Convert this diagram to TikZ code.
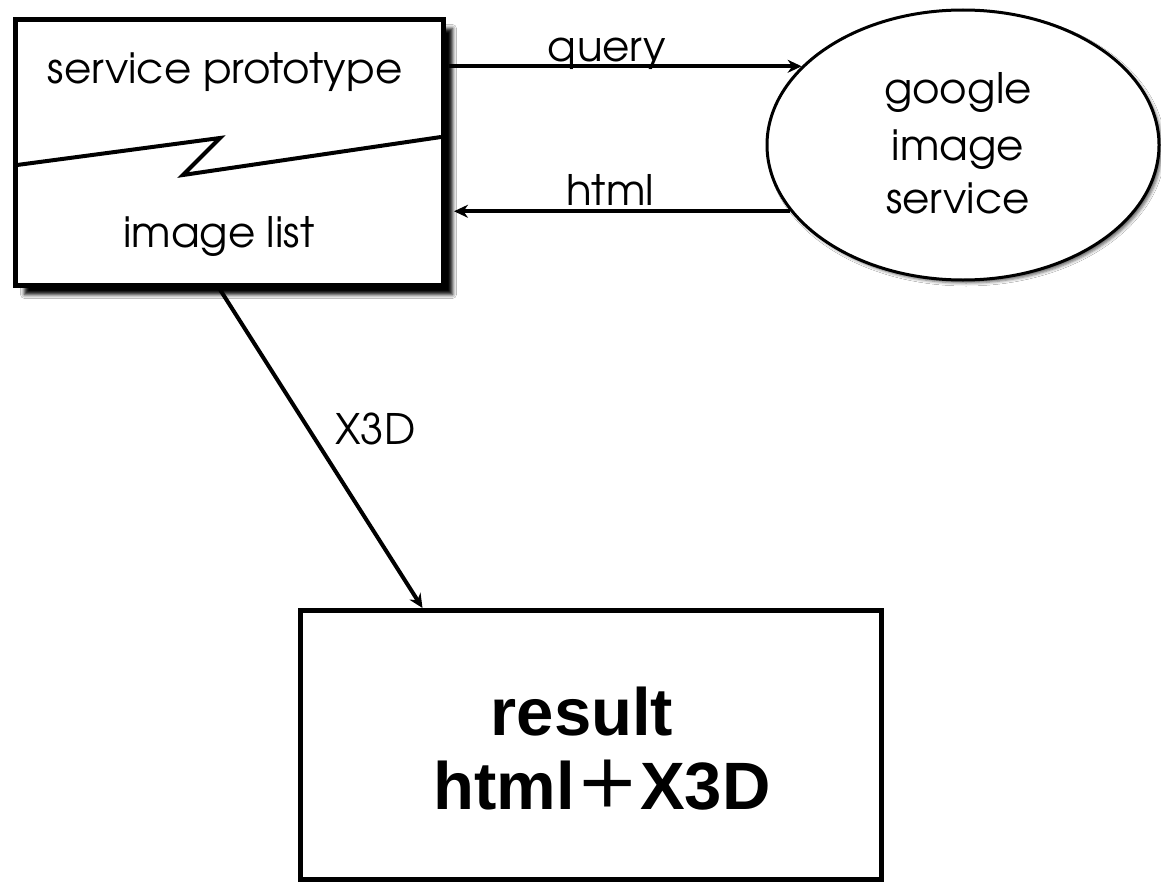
\documentclass[tikz,border=0pt]{standalone}
\usepackage{fontspec}
\usetikzlibrary{arrows.meta,shapes.geometric,shadows.blur}
\newfontfamily\boldsansfont{Liberation Sans}
\newfontfamily\gothicfamily{TeX Gyre Adventor}
\newcommand\gothicfont{\gothicfamily\fontsize{42}{50}\selectfont}
\begin{document}
\begin{tikzpicture}[x=1pt,y=-1pt,
  gothic/.style={font=\gothicfont, inner sep=0pt},
  bigbold/.style={font=\boldsansfont\bfseries\fontsize{67}{78}\selectfont, inner sep=0pt},
  arr/.style={line width=4pt, -{Stealth[length=14pt,width=13pt]}},
  boxA/.style={draw, line width=5pt, inner sep=0pt, fill=white}]
\useasboundingbox (0,0) rectangle (1161,883);
\fill[white] (0,0) rectangle (1161,883);

% service prototype box
\node[boxA, minimum width=428pt, minimum height=266pt,
  blur shadow={shadow xshift=9pt, shadow yshift=-9pt, shadow blur radius=4pt, shadow opacity=100}]
  (proto) at (229.5,152.5) {};
\draw[line width=4pt, line join=miter] (17,165) -- (220,138) -- (183,175) -- (441,137);
\node[gothic, anchor=base] (sp) at (225,83) {service prototype};
\node[gothic, anchor=base] (il) at (219,247) {image list};

% google image service ellipse
\node[ellipse, draw, line width=3pt, fill=white, minimum width=392pt, minimum height=270pt, inner sep=0pt,
  blur shadow={shadow xshift=3pt, shadow yshift=-3pt, shadow blur radius=3pt, shadow opacity=60}]
  (gis) at (963,145) {};
\node[gothic, anchor=base] (g1) at (958,103) {google};
\node[gothic, anchor=base] (g2) at (958,160) {image};
\node[gothic, anchor=base] (g3) at (958,213) {service};

% arrows between box and ellipse
\draw[arr, shorten <=3pt] (proto.east |- gis.154) -- (gis.154);
\node[gothic, anchor=base] (lq) at (607,61) {query};
\draw[arr, shorten >=8pt] (gis.201) -- (proto.east |- gis.201);
\node[gothic, anchor=base] (lh) at (610,205) {html};

% result box
\node[boxA, minimum width=581pt, minimum height=269pt] (res) at (590.5,745) {};
\node[bigbold, anchor=base] (r1) at (582,735) {result};
\node[bigbold, anchor=base] (r2) at (602,809) {html\hspace{3pt}{\gothicfamily\mdseries\fontsize{84}{84}\selectfont\smash{\raisebox{5pt}{+}}}\hspace{2pt}X3D};

% X3D arrow
\draw[arr] ([xshift=206pt]proto.south west) -- ([xshift=125pt]res.north west);
\node[gothic, anchor=base west] (lx) at (335,444) {X3D};
\end{tikzpicture}
\end{document}
